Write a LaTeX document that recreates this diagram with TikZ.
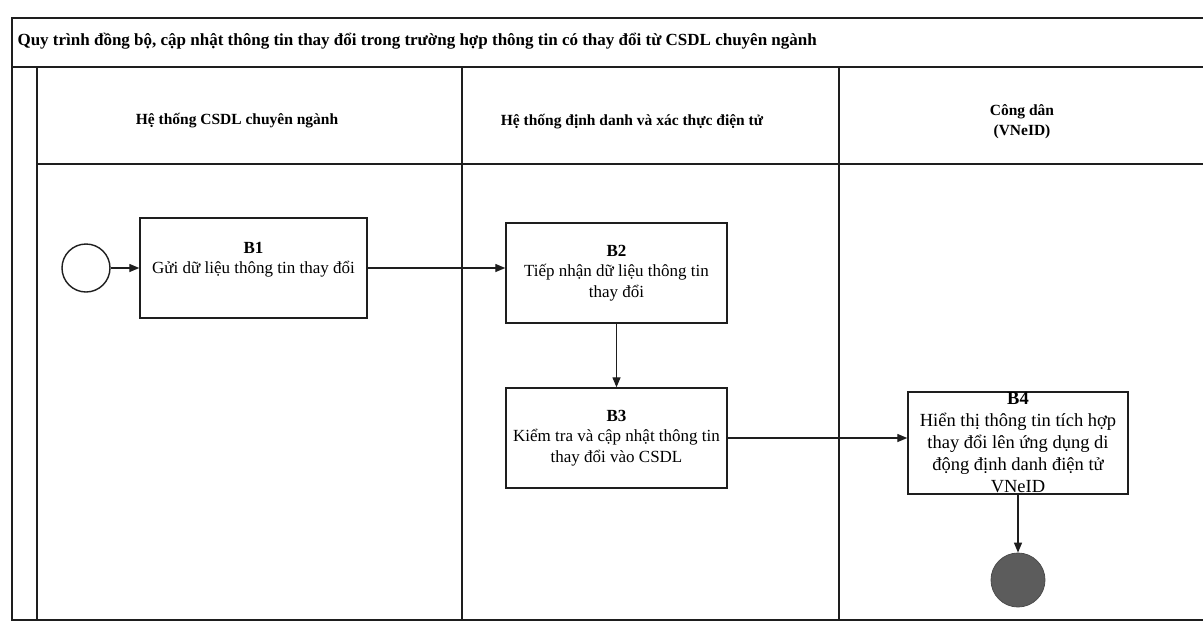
\documentclass[tikz,border=0pt]{standalone}
\usepackage{fontspec}
\setmainfont{Liberation Serif}
\usetikzlibrary{arrows.meta}
\definecolor{ink}{RGB}{30,30,30}
\definecolor{endfill}{RGB}{92,92,92}
\begin{document}
\begin{tikzpicture}[x=1pt,y=-1pt,
  frame/.style={draw=ink,line width=1.5pt},
  lane/.style={draw=ink,line width=1.2pt},
  stepbox/.style={draw=ink,line width=1.4pt,fill=white,align=center,inner sep=0pt,
    font=\fontsize{17}{20.5}\selectfont},
  lanehead/.style={align=center,font=\bfseries\fontsize{15.5}{20}\selectfont},
  flow/.style={draw=ink,line width=1.3pt,-{Triangle[length=10pt,width=8pt]}},
  startev/.style={circle,draw=ink,line width=1.4pt,minimum size=48pt,inner sep=0pt},
  endev/.style={circle,draw=ink!80,line width=0.8pt,fill=endfill,minimum size=54pt,inner sep=0pt}]
\useasboundingbox (0,0) rectangle (1203,622);
\fill[white] (0,0) rectangle (1203,622);
% pool frame
\draw[frame] (1206,18) -- (12,18) -- (12,620) -- (1206,620);
\draw[frame] (12,67) -- (1206,67);
\draw[frame] (37,67) -- (37,620);
\draw[lane] (37,164) -- (1206,164);
\draw[lane] (462,67) -- (462,620);
\draw[lane] (839,67) -- (839,620);
% title
\node[anchor=west,font=\bfseries\fontsize{17}{20}\selectfont] (title) at (14,41)
  {Quy trình đồng bộ, cập nhật thông tin thay đổi trong trường hợp thông tin có thay đổi từ CSDL chuyên ngành};
% lane headers
\node[lanehead] (h1) at (237,121) {Hệ thống CSDL chuyên ngành};
\node[lanehead] (h2) at (632,122) {Hệ thống định danh và xác thực điện tử};
\node[lanehead] (h3) at (1022,122) {Công dân\\(VNeID)};
% events and tasks
\node[startev] (start) at (86,268) {};
\node[stepbox,minimum width=227pt,minimum height=100pt] (b1) at (253.5,268)
  {\textbf{B1}\\Gửi dữ liệu thông tin thay đổi\\\mbox{}};
\node[stepbox,minimum width=221pt,minimum height=100pt] (b2) at (616.5,273)
  {\textbf{B2}\\Tiếp nhận dữ liệu thông tin\\thay đổi};
\node[stepbox,minimum width=221pt,minimum height=100pt] (b3) at (616.5,438)
  {\textbf{B3}\\Kiểm tra và cập nhật thông tin\\thay đổi vào CSDL};
\node[stepbox,minimum width=220pt,minimum height=102pt,font=\fontsize{18.5}{22}\selectfont] (b4) at (1018,443)
  {\textbf{B4}\\Hiển thị thông tin tích hợp\\thay đổi lên ứng dụng di\\động định danh điện tử\\VNeID};
\node[endev] (stop) at (1018,580) {};
% flows
\draw[flow] (start.east) -- (start.east -| b1.west);
\draw[flow] (b1.east) -- (b1.east -| b2.west);
\draw[flow] (b2.south) -- (b3.north);
\draw[flow] (b3.east) -- (b3.east -| b4.west);
\draw[flow] (b4.south) -- (stop.north);
\end{tikzpicture}
\end{document}
